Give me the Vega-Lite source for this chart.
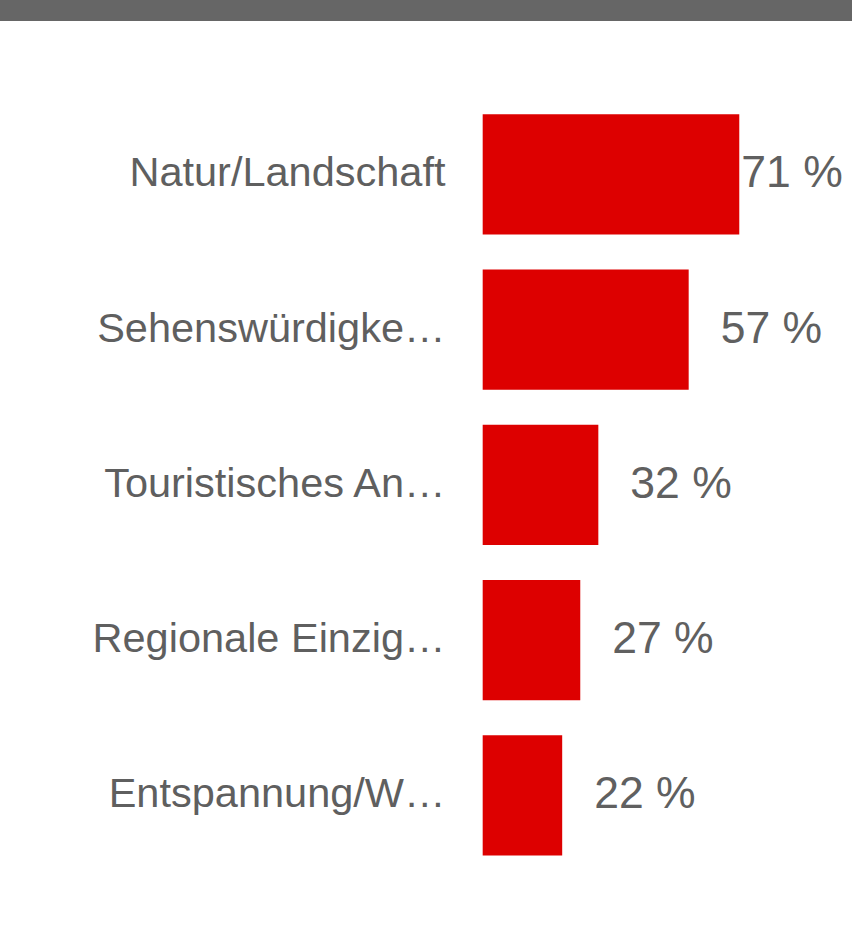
{
  "$schema": "https://vega.github.io/schema/vega-lite/v6.json",
  "width": 852,
  "height": 910,
  "autosize": {"type": "none"},
  "padding": {"top": 21, "left": 0, "right": 0, "bottom": 0},
  "background": "#666666",
  "config": {
    "view": {"fill": "#ffffff", "stroke": null}
  },
  "data": {
    "values": [
      {"category": "Natur/Landschaft", "value": 71, "label": "71 %"},
      {"category": "Sehenswürdigke…", "value": 57, "label": "57 %"},
      {"category": "Touristisches An…", "value": 32, "label": "32 %"},
      {"category": "Regionale Einzig…", "value": 27, "label": "27 %"},
      {"category": "Entspannung/W…", "value": 22, "label": "22 %"}
    ]
  },
  "encoding": {
    "y": {
      "field": "category",
      "type": "nominal",
      "sort": null,
      "scale": {"paddingInner": 0.2258, "paddingOuter": 0.5437, "align": 0.5527},
      "axis": {
        "title": null,
        "orient": "left",
        "offset": -483,
        "domain": false,
        "ticks": false,
        "grid": false,
        "labelPadding": 38,
        "labelFont": "Liberation Sans",
        "labelFontSize": 41.5,
        "labelColor": "#5f5f5f",
        "labelLimit": 600
      }
    },
    "x": {
      "field": "value",
      "type": "quantitative",
      "scale": {"domain": [-133.56, 102.19], "nice": false, "zero": false},
      "axis": null
    }
  },
  "layer": [
    {
      "mark": {"type": "bar", "color": "#DD0000"},
      "encoding": {"x2": {"datum": 0}}
    },
    {
      "transform": [{"filter": "datum.value < 65"}],
      "mark": {"type": "text", "align": "left", "baseline": "middle", "dx": 32, "font": "Liberation Sans", "fontSize": 44.5, "color": "#606060"},
      "encoding": {"text": {"field": "label"}}
    },
    {
      "transform": [{"filter": "datum.value >= 65"}],
      "mark": {"type": "text", "align": "left", "baseline": "middle", "dx": 2, "font": "Liberation Sans", "fontSize": 44.5, "color": "#606060"},
      "encoding": {"text": {"field": "label"}}
    }
  ]
}
